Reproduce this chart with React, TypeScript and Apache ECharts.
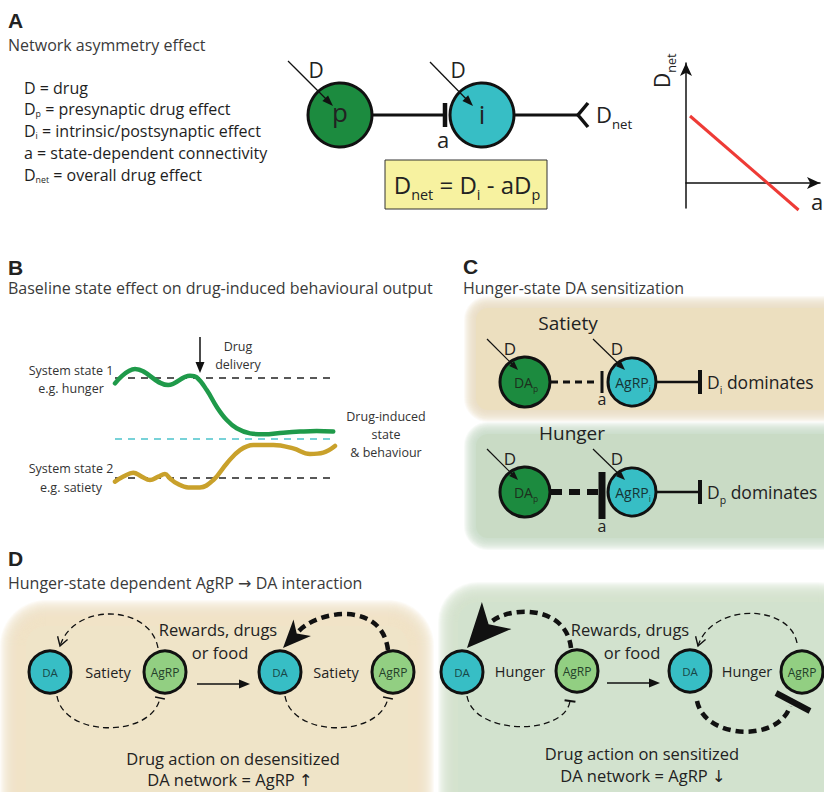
import React, { useEffect, useRef } from "react";
import * as echarts from "echarts";

const FONT = "'Open Sans', 'Noto Sans', 'DejaVu Sans', sans-serif";
const BOLD_FONT = "'Liberation Sans', Arial, sans-serif";

// ---------- Panel A: definitions ----------
const defSymbols = ["D", "D", "D", "a", "D"];
const defSubscripts = ["", "p", "i", "", "net"];
const defMeanings = [
  " = drug",
  " = presynaptic drug effect",
  " = intrinsic/postsynaptic effect",
  " = state-dependent connectivity",
  " = overall drug effect",
];

// ---------- Panel A: D_net vs a ----------
const connectivityA = [0.3, 8.4];
const netEffect = [6.7, -2.7];

// ---------- Panel B: state traces ----------
const timeHunger = [0, 9.1, 24.2, 34.1, 37.1, 41.7, 46.2, 50.8, 55.3, 61.4, 67.4, 76.5, 84.1, 91.7, 99.2];
const hungerTrace = [77.8, 87.3, 76.7, 82.9, 81.8, 73.3, 62.2, 53.3, 47.8, 44.4, 43.8, 44.9, 45.6, 46, 45.6];
const timeSatiety = [0, 3.8, 8.3, 12.1, 15.9, 19.7, 22.7, 25, 28, 33.3, 38.6, 44.7, 50.8, 56.8, 62.9, 72, 81, 88.6, 94.7, 100];
const satietyTrace = [12.2, 15.6, 18.2, 15.6, 13.3, 15.6, 17.3, 14.4, 11.1, 8.4, 8.4, 13.3, 24.4, 33.3, 36.7, 36.7, 34.4, 30.7, 31.6, 36];
const baselineLevels = [81.3, 14.7];
const drugInducedLevel = 40.7;
const timeRange = [0, 100];

function buildOption() {
  const cv = document.createElement("canvas").getContext("2d") as CanvasRenderingContext2D;
  const tw = (s: string, size: number) => {
    cv.font = `${size}px ${FONT}`;
    return cv.measureText(s).width;
  };
  const els: any[] = [];
  const mkText = (x: number, y: number, t: string, size: number, o: any = {}) => ({
    type: "text",
    x,
    y,
    z: 20,
    style: {
      text: t,
      fontSize: size,
      fontFamily: o.font || FONT,
      fontWeight: o.weight || "normal",
      fill: o.fill || "#222",
      align: o.align || "left",
      verticalAlign: "middle",
    },
  });
  const T = (x: number, y: number, t: string, size: number, o: any = {}) => els.push(mkText(x, y, t, size, o));
  const seq = (x: number, y: number, parts: any[], size: number, align = "left", fill = "#222", target: any[] = els, subRatio = 0.6, dyRatio = 0.45) => {
    const sub = size * subRatio;
    const dy = size * dyRatio;
    const ps = parts.filter((p) => p[0] !== "");
    const w = ps.map((p) => tw(p[0], p[1] ? sub : size));
    const total = w.reduce((a, b) => a + b, 0);
    let cx = align === "center" ? x - total / 2 : align === "right" ? x - total : x;
    ps.forEach((p, i) => {
      target.push(mkText(cx, y + (p[1] ? dy : 0), p[0], p[1] ? sub : size, { fill }));
      cx += w[i];
    });
    return target;
  };
  // soft-edged background: a core rect plus many thin translucent halo layers
  const soft = (x: number, y: number, w: number, h: number, color: string, r: number, spread: number) => {
    const steps = Math.round(spread);
    for (let k = steps; k >= 1; k--) {
      const e = (spread * k) / steps;
      els.push({ type: "rect", z: 0, shape: { x: x - e, y: y - e, width: w + 2 * e, height: h + 2 * e, r: r + e }, style: { fill: color, opacity: 0.14 } });
    }
    els.push({ type: "rect", z: 0, shape: { x, y, width: w, height: h, r }, style: { fill: color } });
  };
  const circ = (cx: number, cy: number, r: number, fill: string, lw = 3) =>
    els.push({ type: "circle", z: 15, shape: { cx, cy, r }, style: { fill, stroke: "#111", lineWidth: lw } });
  const line = (x1: number, y1: number, x2: number, y2: number, lw: number, o: any = {}) =>
    els.push({ type: "line", z: o.z || 14, shape: { x1, y1, x2, y2 }, style: { stroke: o.color || "#111", lineWidth: lw, lineDash: o.dash, lineCap: o.cap || "butt" } });
  const arrow = (x1: number, y1: number, x2: number, y2: number, lw: number, hl: number, hw: number) => {
    const a = Math.atan2(y2 - y1, x2 - x1);
    const bx = x2 - hl * Math.cos(a);
    const by = y2 - hl * Math.sin(a);
    line(x1, y1, x2 - hl * 0.6 * Math.cos(a), y2 - hl * 0.6 * Math.sin(a), lw, { z: 17 });
    const px = (-Math.sin(a) * hw) / 2;
    const py = (Math.cos(a) * hw) / 2;
    els.push({ type: "polygon", z: 18, shape: { points: [[x2, y2], [bx + px, by + py], [bx - px, by - py]] }, style: { fill: "#111" } });
  };
  const curve = (p0: number[], c1: number[], c2: number[], p1: number[], lw: number, dash: number[]) =>
    els.push({
      type: "bezierCurve",
      z: 14,
      shape: { x1: p0[0], y1: p0[1], cpx1: c1[0], cpy1: c1[1], cpx2: c2[0], cpy2: c2[1], x2: p1[0], y2: p1[1] },
      style: { stroke: "#111", lineWidth: lw, lineDash: dash, fill: null },
    });
  const chevron = (tx: number, ty: number, dx: number, dy: number, len: number, lw: number) => {
    const a = Math.atan2(dy, dx);
    const s = 0.55;
    const p1 = [tx - len * Math.cos(a - s), ty - len * Math.sin(a - s)];
    const p2 = [tx - len * Math.cos(a + s), ty - len * Math.sin(a + s)];
    els.push({ type: "polyline", z: 16, shape: { points: [p1, [tx, ty], p2] }, style: { stroke: "#111", lineWidth: lw, fill: null } });
  };
  const barb = (tx: number, ty: number, dx: number, dy: number, L: number, W: number, N: number) => {
    const n = Math.hypot(dx, dy);
    const ux = dx / n;
    const uy = dy / n;
    const bx = tx - L * ux;
    const by = ty - L * uy;
    const px = -uy;
    const py = ux;
    const nx = tx - (L - N) * ux;
    const ny = ty - (L - N) * uy;
    els.push({
      type: "polygon",
      z: 16,
      shape: { points: [[tx, ty], [bx + W * px, by + W * py], [nx, ny], [bx - W * px, by - W * py]] },
      style: { fill: "#111" },
    });
  };
  const tbar = (cx: number, cy: number, dx: number, dy: number, len: number, lw: number) => {
    const n = Math.hypot(dx, dy);
    const px = (-dy / n) * (len / 2);
    const py = (dx / n) * (len / 2);
    line(cx - px, cy - py, cx + px, cy + py, lw);
  };

  const titleColor = "#3a3a3a";
  const darkGreen = "#1c8b3f";
  const teal = "#37bec5";
  const lightGreen = "#92cf82";

  // ---------- backgrounds ----------
  soft(476, 308, 380, 102, "#ecdfbf", 12, 12);
  soft(476, 434, 380, 104, "#c9dbc5", 12, 12);
  soft(26, 626, 382, 190, "#efe4c8", 20, 26);
  soft(458, 602, 380, 210, "#d2e2ce", 20, 20);

  // ---------- Panel A ----------
  T(8, 20, "A", 21, { font: BOLD_FONT, weight: "bold", fill: "#222" });
  T(8, 45, "Network asymmetry effect", 16, { fill: titleColor });
  const defY = [88, 109, 131, 153, 175];
  defSymbols.forEach((s, i) => {
    seq(24, defY[i], [[s, false], [defSubscripts[i], true], [defMeanings[i], false]], 16, "left", "#1e1e1e", els, 0.55, 0.33);
  });

  line(372, 115, 443, 115, 3);
  line(445, 103, 445, 127, 4.5);
  line(514, 115, 578, 115, 3);
  els.push({ type: "polyline", z: 16, shape: { points: [[588, 103], [578, 115], [588, 127]] }, style: { stroke: "#111", lineWidth: 3.5, fill: null } });
  circ(340, 115, 32, darkGreen, 3);
  circ(482, 115, 32, teal, 3);
  T(340, 112, "p", 26, { align: "center" });
  T(482, 114, "i", 26, { align: "center" });
  T(316, 70, "D", 21, { align: "center" });
  T(458, 70, "D", 21, { align: "center" });
  arrow(288, 61, 333, 106, 1.3, 11, 8);
  arrow(430, 62, 473, 106, 1.3, 11, 8);
  T(443, 139, "a", 22, { align: "center" });
  seq(596, 114, [["D", false], ["net", true]], 22);

  els.push({ type: "rect", z: 12, shape: { x: 385, y: 160, width: 162, height: 49 }, style: { fill: "#f7f2a0", stroke: "#333", lineWidth: 1 } });
  seq(467, 184, [["D", false], ["net", true], [" = D", false], ["i", true], [" - aD", false], ["p", true]], 24, "center");

  els.push({ type: "group", x: 662, y: 88, rotation: Math.PI / 2, children: seq(0, 0, [["D", false], ["net", true]], 21, "left", "#222", []) });
  T(811, 201, "a", 22);

  // ---------- Panel B ----------
  T(8, 267, "B", 21, { font: BOLD_FONT, weight: "bold", fill: "#222" });
  T(8, 288, "Baseline state effect on drug-induced behavioural output", 16, { fill: titleColor });
  T(71, 370, "System state 1", 12.5, { align: "center", fill: "#333" });
  T(71, 388, "e.g. hunger", 12.5, { align: "center", fill: "#333" });
  T(71, 468, "System state 2", 12.5, { align: "center", fill: "#333" });
  T(71, 487, "e.g. satiety", 12.5, { align: "center", fill: "#333" });
  arrow(200, 337, 200, 373, 1.5, 11, 9);
  T(238, 346, "Drug", 12.5, { align: "center", fill: "#333" });
  T(238, 364, "delivery", 12.5, { align: "center", fill: "#333" });
  T(386, 416, "Drug-induced", 12.5, { align: "center", fill: "#333" });
  T(386, 434, "state", 12.5, { align: "center", fill: "#333" });
  T(386, 452, "& behaviour", 12.5, { align: "center", fill: "#333" });

  // ---------- Panel C ----------
  T(463, 266, "C", 21, { font: BOLD_FONT, weight: "bold", fill: "#222" });
  T(463, 288, "Hunger-state DA sensitization", 16, { fill: titleColor });
  T(568, 323, "Satiety", 19, { align: "center" });
  T(572, 433, "Hunger", 19, { align: "center" });
  const rows = [
    { y: 382, dashW: 3, dash: [7, 5], barTop: 371, barBot: 393, barW: 3, aY: 399, sub: "i" },
    { y: 492, dashW: 6, dash: [11, 7], barTop: 472, barBot: 519, barW: 7, aY: 526, sub: "p" },
  ];
  rows.forEach((r) => {
    line(551, r.y, 598, r.y, r.dashW, { dash: r.dash });
    line(602, r.barTop, 602, r.barBot, r.barW);
    line(657, r.y, 700, r.y, 2.5);
    line(700, r.y - 12, 700, r.y + 12, 4);
    circ(525, r.y, 25, darkGreen, 3);
    circ(632, r.y, 24, teal, 3);
    seq(526, r.y, [["DA", false], ["p", true]], 14, "center", "#1d2f1d");
    seq(633, r.y, [["AgRP", false], ["i", true]], 14, "center", "#163535");
    T(602, r.aY, "a", 16, { align: "center" });
    seq(707, r.y, [["D", false], [r.sub, true], [" dominates", false]], 17.5);
    T(510, r.y - 34, "D", 17, { align: "center" });
    T(617, r.y - 34, "D", 17, { align: "center" });
    arrow(487, r.y - 43, 518, r.y - 12, 1.2, 9, 7);
    arrow(593, r.y - 43, 625, r.y - 12, 1.2, 9, 7);
  });

  // ---------- Panel D ----------
  T(8, 558, "D", 21, { font: BOLD_FONT, weight: "bold", fill: "#222" });
  T(8, 583, "Hunger-state dependent AgRP \u2192 DA interaction", 16, { fill: titleColor });

  const thin = 1.3;
  const thinDash = [6, 4];
  const thick = 4.5;
  const thickDash = [8, 5];

  // left pair 1 (satiety)
  curve([158, 648], [150, 604], [74, 602], [60, 646], thin, thinDash);
  chevron(60, 646, -14, 44, 10, 1.4);
  curve([57, 696], [64, 738], [152, 738], [160, 698], thin, thinDash);
  tbar(160, 698, 8, -40, 10, 1.5);
  // left pair 2 (satiety after)
  curve([388, 650], [382, 600], [316, 610], [297, 633], thick, thickDash);
  barb(283, 648, -17, 18, 28, 12, 8);
  curve([285, 696], [292, 738], [380, 738], [388, 698], thin, thinDash);
  tbar(388, 698, 8, -40, 10, 1.5);
  // right pair 1 (hunger)
  curve([571, 648], [566, 603], [505, 606], [489, 624], thick, thickDash);
  barb(467, 648, -21, 23, 44, 20, 12);
  curve([467, 696], [474, 736], [565, 736], [570, 701], thin, thinDash);
  tbar(570, 701, 6, -38, 11, 2);
  // right pair 2 (hunger after)
  curve([797, 643], [790, 604], [712, 602], [698, 646], thin, thinDash);
  chevron(698, 646, -14, 44, 10, 1.4);
  curve([697, 701], [705, 740], [780, 742], [790, 706], thick, thickDash);
  line(776, 693, 810, 711, 6);

  const dCircles = [
    [50, 672, teal, "DA"],
    [165, 672, lightGreen, "AgRP"],
    [280, 672, teal, "DA"],
    [393, 672, lightGreen, "AgRP"],
    [462, 672, teal, "DA"],
    [577, 671, lightGreen, "AgRP"],
    [690, 671, teal, "DA"],
    [802, 672, lightGreen, "AgRP"],
  ];
  dCircles.forEach((c: any) => {
    circ(c[0], c[1], 21, c[2], 3);
    T(c[0], c[1], c[3], c[3] === "DA" ? 11.5 : 12, { align: "center", fill: c[3] === "DA" ? "#184646" : "#24402a" });
  });
  T(108, 672, "Satiety", 14.5, { align: "center" });
  T(336, 672, "Satiety", 14.5, { align: "center" });
  T(520, 671, "Hunger", 14.5, { align: "center" });
  T(747, 671, "Hunger", 14.5, { align: "center" });
  arrow(197, 684, 250, 684, 1.5, 11, 9);
  arrow(607, 683, 660, 683, 1.5, 11, 9);
  T(218, 629, "Rewards, drugs", 16.5, { align: "center" });
  T(220, 652, "or food", 16.5, { align: "center" });
  T(630, 629, "Rewards, drugs", 16.5, { align: "center" });
  T(632, 652, "or food", 16.5, { align: "center" });
  T(233, 758, "Drug action on desensitized", 16.5, { align: "center" });
  T(230, 779, "DA network = AgRP \u2191", 16.5, { align: "center" });
  T(642, 753, "Drug action on sensitized", 16.5, { align: "center" });
  T(643, 775, "DA network = AgRP \u2193", 16.5, { align: "center" });

  const hiddenAxis = (gi: number, min: number, max: number) => ({ type: "value", gridIndex: gi, min, max, show: false });
  const arrowAxis = (gi: number, min: number, max: number) => ({
    type: "value",
    gridIndex: gi,
    min,
    max,
    axisLine: { show: true, onZero: true, symbol: ["none", "arrow"], symbolSize: [9, 13], lineStyle: { color: "#111", width: 1.5 } },
    axisTick: { show: false },
    axisLabel: { show: false },
    splitLine: { show: false },
  });

  const flat = (level: number) => [[timeRange[0], level], [timeRange[1], level]];

  return {
    animation: false,
    backgroundColor: "#ffffff",
    grid: [
      { left: 115, top: 350, width: 220, height: 150 },
      { left: 686, top: 63, width: 134, height: 145 },
    ],
    xAxis: [hiddenAxis(0, timeRange[0], timeRange[1]), arrowAxis(1, 0, 10)],
    yAxis: [hiddenAxis(0, 0, 100), arrowAxis(1, -2.5, 12)],
    series: [
      { type: "line", xAxisIndex: 0, yAxisIndex: 0, data: flat(baselineLevels[0]), symbol: "none", silent: true, lineStyle: { color: "#222", width: 1.4, type: [7, 6] } },
      { type: "line", xAxisIndex: 0, yAxisIndex: 0, data: flat(baselineLevels[1]), symbol: "none", silent: true, lineStyle: { color: "#222", width: 1.4, type: [7, 6] } },
      { type: "line", xAxisIndex: 0, yAxisIndex: 0, data: flat(drugInducedLevel), symbol: "none", silent: true, lineStyle: { color: "#4cc3cb", width: 1.4, type: [7, 6] } },
      {
        type: "line", xAxisIndex: 0, yAxisIndex: 0, smooth: 0.4, symbol: "none", silent: true,
        data: timeHunger.map((t, i) => [t, hungerTrace[i]]),
        lineStyle: { color: "#1f9a4a", width: 4.5, cap: "round" },
      },
      {
        type: "line", xAxisIndex: 0, yAxisIndex: 0, smooth: 0.4, symbol: "none", silent: true,
        data: timeSatiety.map((t, i) => [t, satietyTrace[i]]),
        lineStyle: { color: "#c9a12b", width: 4.5, cap: "round" },
      },
      {
        type: "line", xAxisIndex: 1, yAxisIndex: 1, symbol: "none", silent: true, clip: false,
        data: connectivityA.map((a, i) => [a, netEffect[i]]),
        lineStyle: { color: "#ee3b36", width: 3 },
      },
    ],
    graphic: els,
  };
}

export default function App() {
  const ref = useRef<HTMLDivElement>(null);
  useEffect(() => {
    const chart = echarts.init(ref.current as HTMLDivElement, null, { renderer: "svg" });
    chart.setOption(buildOption() as any);
    return () => chart.dispose();
  }, []);
  return <div ref={ref} style={{ position: "absolute", left: 0, top: 0, width: 824, height: 792, background: "#fff" }} />;
}
